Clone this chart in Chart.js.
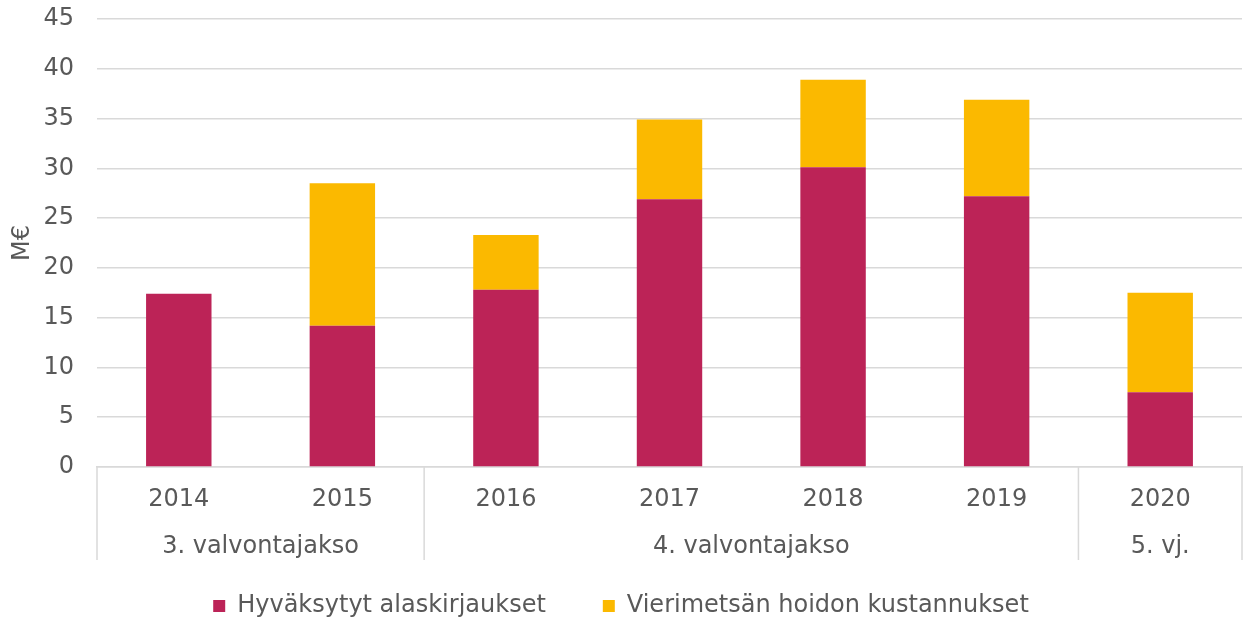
<!DOCTYPE html>
<html>
<head>
<meta charset="utf-8">
<script src="https://cdn.jsdelivr.net/npm/chart.js@4"></script>
<style>
  html, body { margin: 0; padding: 0; background: #fff; overflow: hidden; }
  #wrap { width: 1248px; height: 628px; position: relative; }
</style>
</head>
<body>
<div id="wrap"><canvas id="barChart"></canvas></div>
<script>
// chart data
const years = ['2014', '2015', '2016', '2017', '2018', '2019', '2020'];
const approvedWriteDowns = [17.4, 14.2, 17.8, 26.9, 30.1, 27.2, 7.5];
const roadsideForestCosts = [0, 14.3, 5.5, 8.0, 8.8, 9.7, 10.0];
const periodLabels = ['3. valvontajakso', '4. valvontajakso', '5. vj.'];
const periodSpans = [2, 4, 1];  // how many years each period covers
const seriesNames = ['Hyväksytyt alaskirjaukset', 'Vierimetsän hoidon kustannukset'];

const textColor = '#595959';
const gridColor = '#d9d9d9';
const fontFamily = '"DejaVu Sans", Verdana, sans-serif';
Chart.defaults.font.family = fontFamily;
Chart.defaults.font.size = 24;
Chart.defaults.color = textColor;

// draws the second level of the category axis (periods) and the separators
const periodAxis = {
    id: 'periodAxis',
    afterDraw(chart) {
        const x = chart.scales.x;
        const ctx = chart.ctx;
        const bottom = chart.chartArea.bottom;
        const half = (x.getPixelForTick(1) - x.getPixelForTick(0)) / 2;
        ctx.save();
        ctx.strokeStyle = gridColor;
        ctx.lineWidth = 1.5;
        ctx.fillStyle = textColor;
        ctx.font = '24px ' + fontFamily;
        ctx.textAlign = 'center';
        ctx.textBaseline = 'middle';
        let start = 0;
        const edges = [x.getPixelForValue(0) - half];
        periodSpans.forEach((span, i) => {
            const l = x.getPixelForValue(start) - half;
            const r = x.getPixelForValue(start + span - 1) + half;
            edges.push(r);
            ctx.fillText(periodLabels[i], (l + r) / 2, bottom + 80);
            start += span;
        });
        edges.forEach(px => {
            ctx.beginPath();
            ctx.moveTo(px, bottom);
            ctx.lineTo(px, bottom + 93);
            ctx.stroke();
        });
        ctx.restore();
    }
};

const ctx = document.getElementById('barChart').getContext('2d');
new Chart(ctx, {
    type: 'bar',
    data: {
        labels: years,
        datasets: [{
            label: seriesNames[0],
            data: approvedWriteDowns,
            backgroundColor: '#bc2357',
            categoryPercentage: 1,
            barPercentage: 0.4
        }, {
            label: seriesNames[1],
            data: roadsideForestCosts,
            backgroundColor: '#fbb900',
            categoryPercentage: 1,
            barPercentage: 0.4
        }]
    },
    options: {
        responsive: true,
        maintainAspectRatio: false,
        animation: false,
        layout: { padding: { top: 19, right: 6, left: 0, bottom: 0 } },
        plugins: {
            tooltip: { enabled: false },
            legend: {
                position: 'bottom',
                labels: {
                    boxWidth: 12,
                    boxHeight: 12,
                    padding: 57,
                    color: textColor
                }
            }
        },
        scales: {
            x: {
                stacked: true,
                grid: { display: false, drawTicks: false },
                border: { display: true, color: gridColor, width: 1.5 },
                ticks: { padding: 18, color: textColor },
                afterFit(scale) { scale.height = 70; }
            },
            y: {
                stacked: true,
                min: 0,
                max: 45,
                ticks: { stepSize: 5, padding: 23, color: textColor },
                grid: { color: gridColor, lineWidth: 1.5, drawTicks: false },
                border: { display: false },
                title: { display: true, text: 'M€', color: textColor, padding: { top: 8, bottom: 0 } },
                afterFit(scale) {
                    scale.width = 97;
                    scale.paddingTop = 0;
                    scale.paddingBottom = 0;
                }
            }
        }
    },
    plugins: [periodAxis]
});
</script>
</body>
</html>
